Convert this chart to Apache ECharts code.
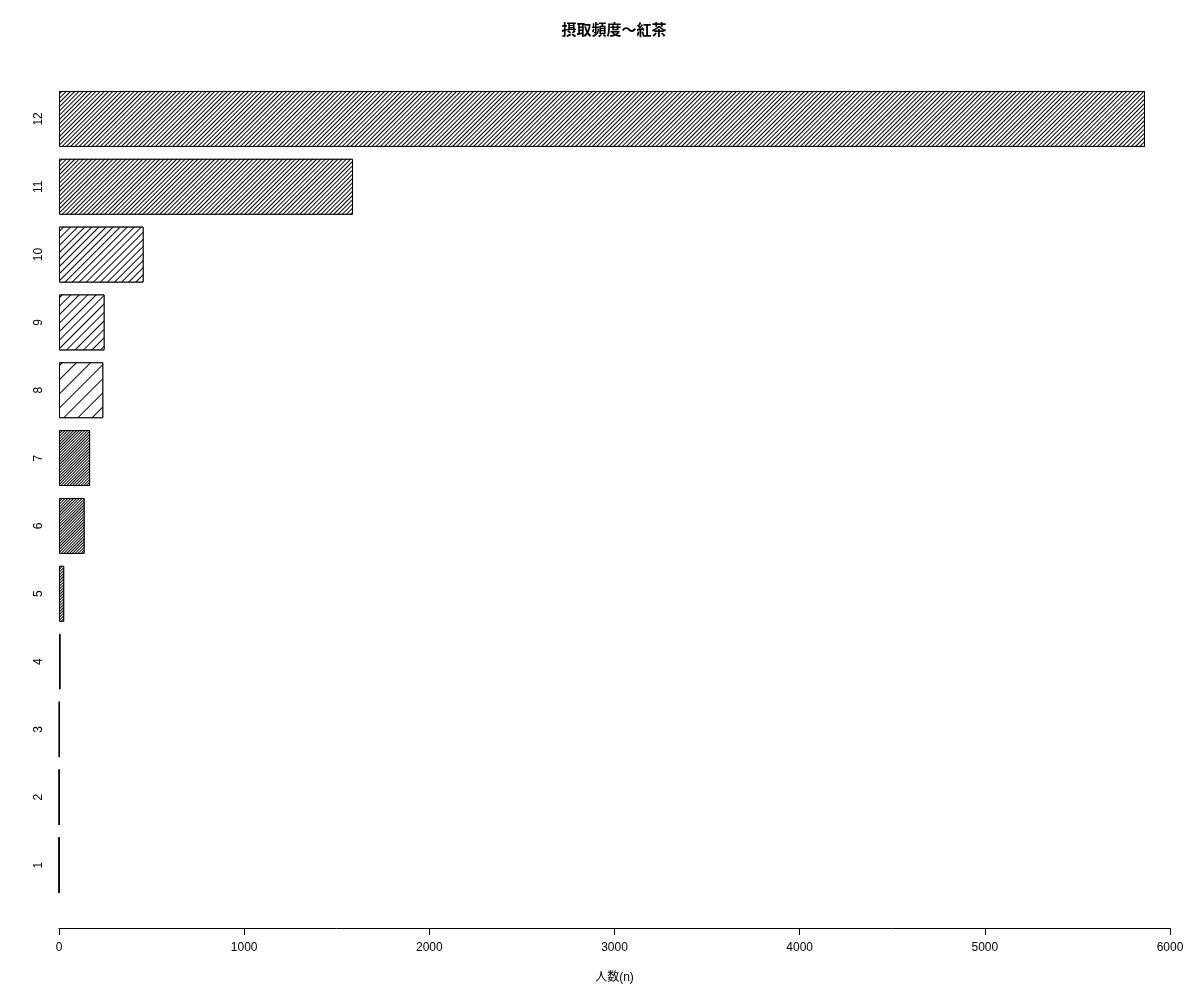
<!DOCTYPE html>
<html>
<head>
<meta charset="utf-8">
<script src="https://cdn.jsdelivr.net/npm/echarts@6/dist/echarts.min.js"></script>
<style>html,body{margin:0;padding:0;background:#fff;}#c{width:1200px;height:1000px;}</style>
</head>
<body>
<div id="c"></div>
<script>
const titleText = '摂取頻度～紅茶';
const axisName = '人数(n)';
const categories = ['1','2','3','4','5','6','7','8','9','10','11','12'];
const counts = [1, 2, 3, 8, 28, 138, 168, 239, 246, 457, 1588, 5865];
const xTicks = [0, 1000, 2000, 3000, 4000, 5000, 6000];
// hatch line spacing per bar (style only)
const hatchGap = [1, 1, 1, 0.8, 0.8, 1, 0.7, 8.5, 4.6, 3.2, 2, 1.3];

const FONT = '"Liberation Sans", Arial, "Noto Sans CJK JP", sans-serif';
const chart = echarts.init(document.getElementById('c'));
chart.setOption({
  backgroundColor: '#fff',
  animation: false,
  title: {
    text: titleText, left: 609, top: 18, textAlign: 'center',
    textStyle: { fontFamily: '"Liberation Sans", "Noto Sans CJK JP", sans-serif', fontSize: 15, fontWeight: 'bold', color: '#000' }
  },
  grid: { left: 59, right: 30, top: 85, bottom: 101, containLabel: false },
  xAxis: {
    type: 'value', min: xTicks[0], max: xTicks[xTicks.length - 1], interval: 1000,
    offset: 29,
    name: axisName, nameLocation: 'middle', nameGap: 44,
    nameTextStyle: { fontFamily: FONT, fontSize: 12, color: '#000' },
    axisLine: { show: true, lineStyle: { color: '#000', width: 1 } },
    axisTick: { show: true, length: 7, lineStyle: { color: '#000' } },
    axisLabel: { fontFamily: FONT, fontSize: 12, color: '#000', margin: 14, formatter: v => String(v) },
    splitLine: { show: false }
  },
  yAxis: {
    type: 'category', data: categories,
    axisLine: { show: false }, axisTick: { show: false },
    axisLabel: { rotate: 90, fontFamily: FONT, fontSize: 12, color: '#000', margin: 14 }
  },
  series: [{
    type: 'bar',
    barCategoryGap: '17.6%',
    data: counts.map((v, i) => ({
      value: v,
      itemStyle: {
        color: '#fff', borderColor: '#000', borderWidth: 1,
        decal: {
          symbol: 'rect', symbolSize: 1,
          dashArrayX: [1, 0], dashArrayY: [1, hatchGap[i]],
          rotation: -Math.PI / 4, color: '#000', backgroundColor: '#fff'
        }
      }
    }))
  }]
});
</script>
</body>
</html>
